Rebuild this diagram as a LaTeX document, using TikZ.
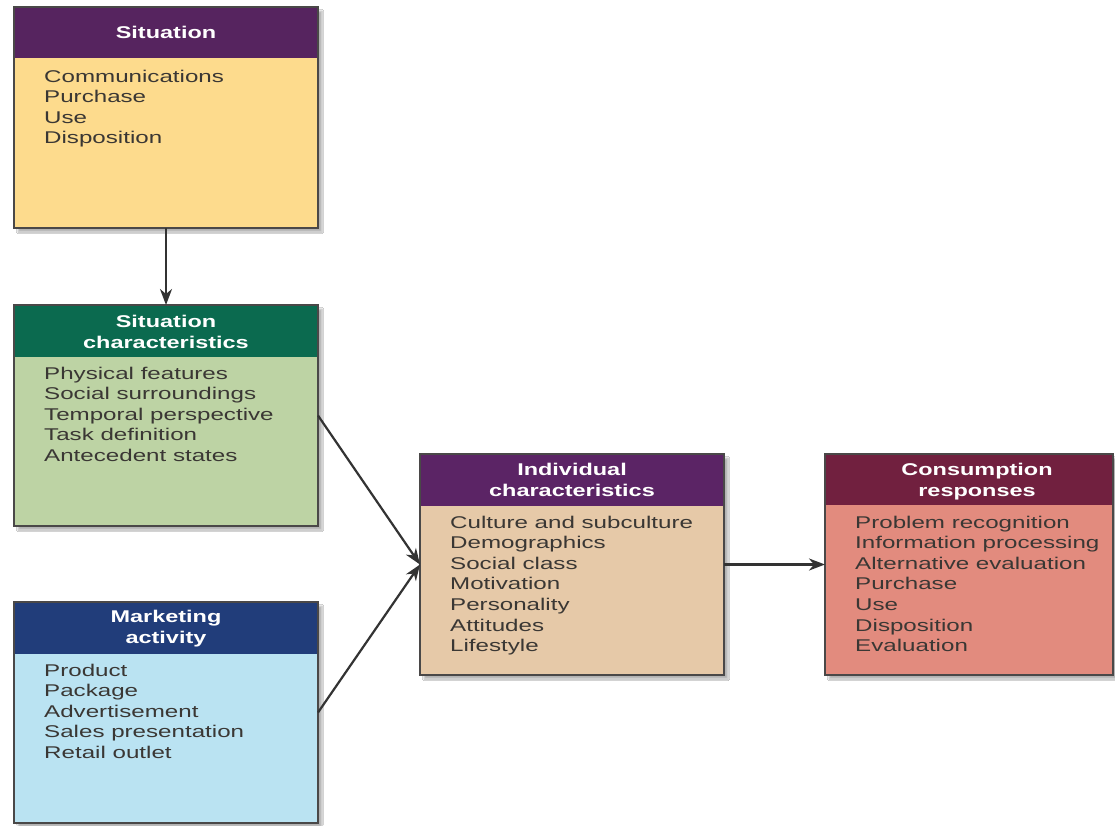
\documentclass[tikz,border=0pt]{standalone}
\usepackage{fontspec}
\newfontfamily\bodyfont[FakeStretch=1.42]{Liberation Sans}
\newfontfamily\headfont[FakeStretch=1.38]{Liberation Sans}
\usetikzlibrary{arrows.meta,shadows.blur}
\definecolor{boxline}{HTML}{4A4848}
\definecolor{arrowc}{HTML}{333333}
\definecolor{bodytxt}{HTML}{3A3734}
\definecolor{sithead}{HTML}{56245F}
\definecolor{sitbody}{HTML}{FDDB8D}
\definecolor{chrhead}{HTML}{0B6A4F}
\definecolor{chrbody}{HTML}{BDD3A4}
\definecolor{mkthead}{HTML}{213D7A}
\definecolor{mktbody}{HTML}{BAE3F2}
\definecolor{indhead}{HTML}{5B2465}
\definecolor{indbody}{HTML}{E6C9A8}
\definecolor{conhead}{HTML}{71203F}
\definecolor{conbody}{HTML}{E28B7E}
\begin{document}
\begin{tikzpicture}[x=1pt,y=-1pt,
  box/.style={draw=boxline, line width=1.2pt, inner sep=0pt, outer sep=0pt,
    minimum width=304pt, minimum height=221pt,
    blur shadow={shadow xshift=4pt, shadow yshift=-4pt, shadow blur steps=6, shadow opacity=30}},
  frame/.style={draw=boxline, line width=1.2pt},
  hdtext/.style={font={\headfont\bfseries\fontsize{17}{21}\selectfont}, text=white, align=center, inner sep=0pt},
  bodytext/.style={font={\bodyfont\fontsize{17}{20.6}\selectfont}, text=bodytxt, align=left, inner sep=0pt, anchor=base west},
  arr/.style={draw=arrowc, line width=2.2pt, -{Stealth[length=16pt,width=12pt,inset=5pt]}}
]
\useasboundingbox (0,0) rectangle (1115,825);
\fill[white] (0,0) rectangle (1115,825);

% Situation
\node[box, fill=sitbody] (sit) at (166,117.5) {};
\fill[sithead] (sit.north west) rectangle ([yshift=-51pt]sit.north east);
\draw[frame] (sit.north west) rectangle (sit.south east);
\node[hdtext] (sith) at ([yshift=-25.5pt]sit.north) {Situation};
\node[bodytext] (sitb) at (44,143.8) {Communications\\Purchase\\Use\\Disposition};

% Situation characteristics
\node[box, fill=chrbody] (chr) at (166,415.5) {};
\fill[chrhead] (chr.north west) rectangle ([yshift=-52pt]chr.north east);
\draw[frame] (chr.north west) rectangle (chr.south east);
\node[hdtext] (chrh) at ([yshift=-27pt]chr.north) {Situation\\characteristics};
\node[bodytext] (chrb) at (44,461.4) {Physical features\\Social surroundings\\Temporal perspective\\Task definition\\Antecedent states};

% Marketing activity
\node[box, fill=mktbody] (mkt) at (166,712.5) {};
\fill[mkthead] (mkt.north west) rectangle ([yshift=-52pt]mkt.north east);
\draw[frame] (mkt.north west) rectangle (mkt.south east);
\node[hdtext] (mkth) at ([yshift=-27pt]mkt.north) {Marketing\\activity};
\node[bodytext] (mktb) at (44,758.4) {Product\\Package\\Advertisement\\Sales presentation\\Retail outlet};

% Individual characteristics
\node[box, fill=indbody] (ind) at (572,564.5) {};
\fill[indhead] (ind.north west) rectangle ([yshift=-52pt]ind.north east);
\draw[frame] (ind.north west) rectangle (ind.south east);
\node[hdtext] (indh) at ([yshift=-26pt]ind.north) {Individual\\characteristics};
\node[bodytext] (indb) at (450,651.6) {Culture and subculture\\Demographics\\Social class\\Motivation\\Personality\\Attitudes\\Lifestyle};

% Consumption responses
\node[box, fill=conbody, minimum width=288pt] (con) at (969,564.5) {};
\fill[conhead] (con.north west) rectangle ([yshift=-51pt]con.north east);
\draw[frame] (con.north west) rectangle (con.south east);
\node[hdtext] (conh) at (977,481.5) {Consumption\\responses};
\node[bodytext] (conb) at (855,651.6) {Problem recognition\\Information processing\\Alternative evaluation\\Purchase\\Use\\Disposition\\Evaluation};

% Connectors
\draw[arr] (sit) -- (chr);
\draw[arr] (chr.east) -- (ind.west);
\draw[arr] (mkt.east) -- (ind.west);
\draw[arr] (ind) -- (con);
\end{tikzpicture}
\end{document}
